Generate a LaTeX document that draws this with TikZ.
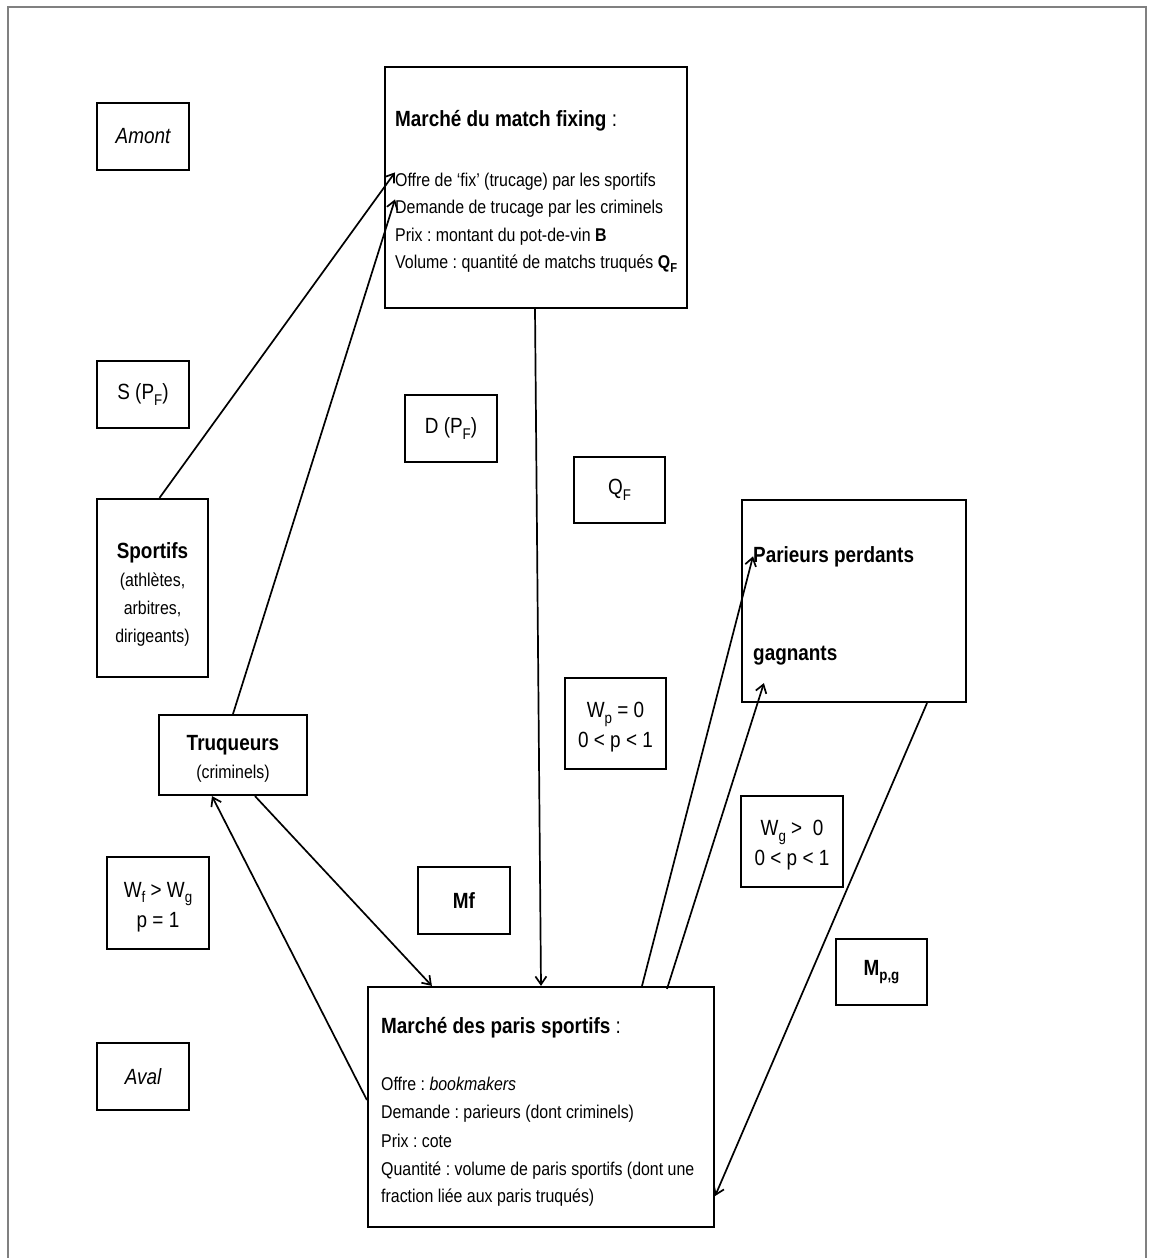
\documentclass[tikz,border=0pt]{standalone}
\usepackage{fontspec}
\setmainfont{Liberation Sans}[FakeStretch=0.86]
\usetikzlibrary{arrows.meta}
\frenchspacing

\definecolor{framegray}{RGB}{128,128,128}

% text sizes
\newcommand\bigfont{\fontsize{22}{30}\selectfont}
\newcommand\bodyfont{\fontsize{18.5}{28}\selectfont}
% lowered indices for the two text sizes
\newcommand\subL[1]{\raisebox{-5.5pt}{\fontsize{15.5}{15.5}\selectfont #1}}
\newcommand\subS[1]{\raisebox{-4.5pt}{\fontsize{13}{13}\selectfont #1}}

\begin{document}
\begin{tikzpicture}[x=1pt, y=-1pt,
  box/.style={draw=black, line width=2.2pt, inner sep=0pt, align=center, font=\bigfont},
  inbox/.style={inner sep=0pt, align=center, font=\bodyfont},
  head/.style={inner sep=0pt, anchor=base west, font=\bigfont},
  body/.style={inner sep=0pt, anchor=base west, font=\bodyfont},
  conn/.style={line width=1.7pt, -{Straight Barb[length=8pt,width=11pt]}},
  frameline/.style={draw=framegray, line width=2.5pt}]

\useasboundingbox (0,0) rectangle (1149,1258);

% outer frame, open at the bottom
\draw[frameline] (8,1258) -- (8,7) -- (1146,7) -- (1146,1258);

% market for fixes
\node[box, minimum width=302pt, minimum height=241pt] (fixbox) at (536,187.5) {};
\node[head] (fixA) at (395,126) {\textbf{Marché du match fixing} :};
\node[body] (fixB) at (395,186) {Offre de `fix' (trucage) par les sportifs};
\node[body] (fixC) at (395,213) {Demande de trucage par les criminels};
\node[body] (fixD) at (395,241) {Prix : montant du pot-de-vin \textbf{B}};
\node[body] (fixE) at (395,268) {Volume : quantité de matchs truqués \textbf{Q\subS{F}}};

% market for sports bets
\node[box, minimum width=346pt, minimum height=240pt] (betbox) at (541,1107) {};
\node[head] (betA) at (381,1033) {\textbf{Marché des paris sportifs} :};
\node[body] (betB) at (381,1090) {Offre : \textit{bookmakers}};
\node[body] (betC) at (381,1118) {Demande : parieurs (dont criminels)};
\node[body] (betD) at (381,1147) {Prix : cote};
\node[body] (betE) at (381,1175) {Quantité : volume de paris sportifs (dont une};
\node[body] (betF) at (381,1202) {fraction liée aux paris truqués)};

% bettors
\node[box, minimum width=224pt, minimum height=202pt] (parieurs) at (854,601) {};
\node[head] (parA) at (753,562) {\textbf{Parieurs perdants}};
\node[head] (parB) at (753,660) {\textbf{gagnants}};

% actors
\node[box, minimum width=111pt, minimum height=178pt] (sportifs) at (152.5,588) {};
\node[inbox] (sportifsT) at ([yshift=-6pt]sportifs.center)
  {{\bigfont\bfseries Sportifs}\\(athlètes,\\arbitres,\\dirigeants)};
\node[box, minimum width=148pt, minimum height=80pt] (truqueurs) at (233,755) {};
\node[inbox] (truqueursT) at ([yshift=-4pt]truqueurs.center)
  {{\bigfont\bfseries Truqueurs}\\(criminels)};

% labels
\node[box, minimum width=92pt, minimum height=67pt] (amont) at (143,136.5) {\itshape Amont};
\node[box, minimum width=92pt, minimum height=67pt] (spf) at (143,394.5) {S (P\subL{F})};
\node[box, minimum width=92pt, minimum height=67pt] (dpf) at (451,428.5) {D (P\subL{F})};
\node[box, minimum width=91pt, minimum height=66pt] (qf) at (619.5,490) {Q\subL{F}};
\node[box, minimum width=101pt, minimum height=91pt] (wp) at (615.5,723.5) {};
\node[inbox, font=\bigfont] (wpT) at ([yshift=-4pt]wp.center) {W\subL{p} = 0\\0 < p < 1};
\node[box, minimum width=102pt, minimum height=91pt] (wg) at (792,841.5) {};
\node[inbox, font=\bigfont] (wgT) at ([yshift=-4pt]wg.center) {W\subL{g} >\ \ 0\\0 < p < 1};
\node[box, minimum width=102pt, minimum height=92pt] (wf) at (158,903) {};
\node[inbox, font=\bigfont] (wfT) at ([yshift=-4pt]wf.center) {W\subL{f} > W\subL{g}\\p = 1};
\node[box, minimum width=92pt, minimum height=67pt] (mf) at (464,900.5) {\textbf{Mf}};
\node[box, minimum width=91pt, minimum height=66pt] (mpg) at (881.5,972) {\textbf{M\subL{p,g}}};
\node[box, minimum width=92pt, minimum height=67pt] (aval) at (143,1076.5) {\itshape Aval};

% connectors
\draw[conn] ([xshift=7pt]sportifs.north) -- (fixB.north west);
\draw[conn] (truqueurs.north) -- (fixC.north west);
\draw[conn] ([xshift=-1pt]fixbox.south) -- (betbox.north);
\draw[conn] ([xshift=22pt]truqueurs.south) -- ([xshift=65pt]betbox.north west);
\draw[conn] ([yshift=7pt]betbox.west) -- ([xshift=-21pt]truqueurs.south);
\draw[conn] ([xshift=101pt]betbox.north) -- (parA.west);
\draw[conn] ([xshift=126pt,yshift=-3pt]betbox.north) -- ([xshift=23pt,yshift=20pt]parieurs.south west);
\draw[conn] ([xshift=73pt]parieurs.south) -- ([yshift=-89pt]betbox.east);

\end{tikzpicture}
\end{document}
